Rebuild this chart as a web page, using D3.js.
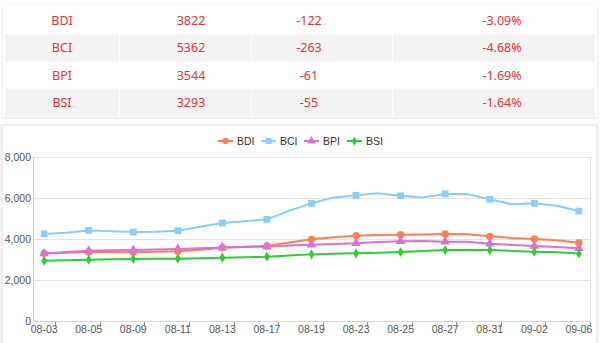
<!DOCTYPE html>
<html><head><meta charset="utf-8">
<script src="https://cdn.jsdelivr.net/npm/d3@7/dist/d3.min.js"></script>
<style>
html,body{margin:0;padding:0;background:#fff;overflow:hidden;}
svg{display:block;}
</style></head>
<body>
<svg id="c" width="600" height="343"></svg>
<script>
// ---- table data ----
const indexNames = ["BDI", "BCI", "BPI", "BSI"];
const indexValues = [3822, 5362, 3544, 3293];
const indexChanges = [-122, -263, -61, -55];
const indexPcts = ["-3.09%", "-4.68%", "-1.69%", "-1.64%"];

// ---- chart data ----
const dates = ["08-03","08-04","08-05","08-06","08-09","08-10","08-11","08-12","08-13","08-16","08-17","08-18","08-19","08-20","08-23","08-24","08-25","08-26","08-27","08-30","08-31","09-01","09-02","09-03","09-06"];
const bdi = [3300,3330,3365,3360,3350,3380,3400,3480,3575,3620,3665,3830,3985,4090,4160,4200,4210,4220,4244,4230,4130,4050,4000,3944,3822];
const bci = [4250,4300,4420,4380,4340,4350,4405,4600,4780,4870,4960,5380,5740,6030,6130,6230,6110,6030,6195,6190,5935,5690,5740,5625,5362];
const bpi = [3290,3370,3430,3450,3460,3490,3510,3550,3590,3610,3625,3680,3720,3760,3790,3850,3890,3900,3870,3870,3770,3710,3660,3605,3544];
const bsi = [2940,2965,2990,3010,3025,3035,3040,3065,3090,3115,3140,3200,3250,3275,3300,3335,3365,3415,3460,3465,3460,3420,3380,3348,3293];
const yTicks = [0, 2000, 4000, 6000, 8000];
const seriesNames = ["BDI", "BCI", "BPI", "BSI"];

const series = [
  {name: seriesNames[0], values: bdi, color: "#ff7f50", symbol: d3.symbolCircle, size: 42},
  {name: seriesNames[1], values: bci, color: "#87cefa", symbol: d3.symbolSquare, size: 46},
  {name: seriesNames[2], values: bpi, color: "#da70d6", symbol: d3.symbolTriangle, size: 40},
  {name: seriesNames[3], values: bsi, color: "#32cd32", symbol: d3.symbolDiamond, size: 30}
];

const svg = d3.select("#c");
const defs = svg.append("defs");
const f = defs.append("filter").attr("id","sh").attr("x","-5%").attr("y","-5%").attr("width","110%").attr("height","120%");
f.append("feDropShadow").attr("dx",0).attr("dy",1).attr("stdDeviation",1.5).attr("flood-color","#000").attr("flood-opacity",0.12);

// ---- table panel ----
svg.append("rect").attr("x",3).attr("y",5).attr("width",594).attr("height",112)
  .attr("fill","#fff").attr("filter","url(#sh)");
const colEdges = [5, 119, 251, 392, 595];
const colCenters = [62, 191, 309, 502];
const rowY = d3.scaleBand().domain(d3.range(indexNames.length)).range([7, 116]);
const tg = svg.append("g");
indexNames.forEach((n, i) => {
  if (i % 2 === 1) {
    for (let c = 0; c < 4; c++) {
      tg.append("rect").attr("x", colEdges[c] + (c ? 1 : 0)).attr("y", rowY(i))
        .attr("width", colEdges[c+1] - colEdges[c] - (c ? 1 : 0)).attr("height", rowY.bandwidth())
        .attr("fill", "#f3f3f3");
    }
  }
  const cells = [n, indexValues[i], indexChanges[i], indexPcts[i]];
  cells.forEach((t, c) => {
    tg.append("text").attr("x", colCenters[c]).attr("y", rowY(i) + rowY.bandwidth()/2)
      .attr("text-anchor","middle").attr("dominant-baseline","central")
      .attr("font-family","'Noto Sans', 'Open Sans', sans-serif").attr("font-size", 12.5)
      .attr("fill","#e8343a").text(t);
  });
});

// ---- chart panel ----
svg.append("rect").attr("x",2).attr("y",125).attr("width",595).attr("height",240)
  .attr("fill","#fff").attr("stroke","#e3e3e3").attr("filter","url(#sh)");

const x = d3.scaleBand().domain(dates).range([33, 590]).padding(0);
const y = d3.scaleLinear().domain([0, 8000]).range([321, 157]);
const bw = x.bandwidth();
const cx = d => x(d) + bw / 2;
const axisFont = "'Liberation Sans', Arial, sans-serif";

const g = svg.append("g");
// grid lines
g.selectAll("line.grid").data(yTicks.filter(t => t > 0)).join("line")
  .attr("x1", 33).attr("x2", 590).attr("y1", d => y(d)).attr("y2", d => y(d))
  .attr("stroke", "#e2e2e2").attr("stroke-width", 1).attr("shape-rendering","crispEdges");
// right border
g.append("line").attr("x1",590).attr("x2",590).attr("y1",y(8000)).attr("y2",y(0))
  .attr("stroke","#e2e2e2").attr("shape-rendering","crispEdges");

// y axis
const yAxis = d3.axisLeft(y).tickValues(yTicks).tickFormat(d3.format(",")).tickSize(0).tickPadding(2);
const ya = svg.append("g").attr("transform","translate(33,0)").call(yAxis);
ya.select(".domain").attr("stroke","#cfcfcf");
ya.selectAll("text").attr("font-family",axisFont).attr("font-size",10.5).attr("fill","#555");

// x axis
const labelDates = dates.filter((d, i) => i % 2 === 0);
const xAxis = d3.axisBottom(x).tickValues(labelDates).tickSize(0).tickPadding(5);
const xa = svg.append("g").attr("transform","translate(0,321)").call(xAxis);
xa.select(".domain").attr("stroke","#d8d8d8");
xa.selectAll("text").attr("font-family",axisFont).attr("font-size",10.5).attr("fill","#555");
// ticks at band boundaries
xa.selectAll("line.bt").data(labelDates).join("line").attr("class","bt")
  .attr("x1", d => Math.round(x(d) + bw) + 0.5).attr("x2", d => Math.round(x(d) + bw) + 0.5)
  .attr("y1", 1).attr("y2", 6).attr("stroke","#888").attr("stroke-width",1);

// lines
const line = d3.line().x((v, i) => cx(dates[i])).y(v => y(v));
series.forEach(s => {
  g.append("path").attr("d", line(s.values)).attr("fill","none")
    .attr("stroke", s.color).attr("stroke-width", 2).attr("stroke-linejoin","round");
});
series.forEach(s => {
  g.selectAll(null).data(s.values.map((v, i) => [i, v]).filter(p => p[0] % 2 === 0)).join("path")
    .attr("transform", p => `translate(${cx(dates[p[0]])},${y(p[1])})`)
    .attr("d", d3.symbol().type(s.symbol).size(s.size)).attr("fill", s.color);
});

// legend
const legX = d3.scaleLinear().domain([0, 1]).range([218, 261]);
series.forEach((s, i) => {
  const lg = svg.append("g").attr("transform", `translate(${legX(i)},141)`);
  lg.append("line").attr("x1",0).attr("x2",15).attr("y1",0).attr("y2",0).attr("stroke",s.color).attr("stroke-width",2);
  lg.append("path").attr("transform","translate(7.5,0)").attr("d", d3.symbol().type(s.symbol).size(s.size*0.8)).attr("fill",s.color);
  lg.append("text").attr("x",19).attr("y",0).attr("dominant-baseline","central")
    .attr("font-family",axisFont).attr("font-size",10.5).attr("fill","#333").text(s.name);
});
</script>
</body></html>
